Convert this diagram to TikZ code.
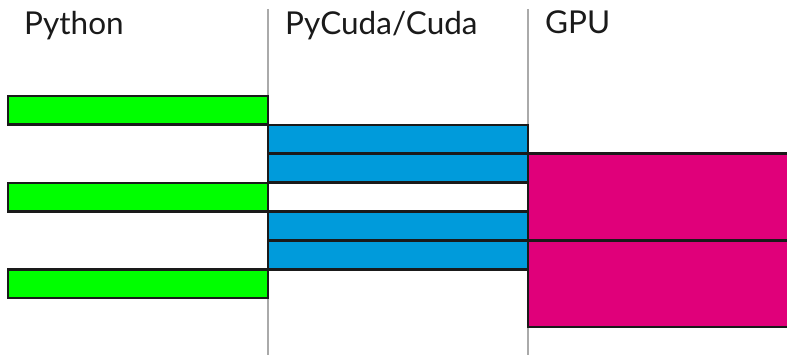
\documentclass[tikz,border=0pt]{standalone}
\usepackage{fontspec}
\setmainfont{Lato}
\definecolor{pygreen}{RGB}{0,255,0}
\definecolor{cudablue}{RGB}{0,155,219}
\definecolor{gpumagenta}{RGB}{224,0,122}
\definecolor{edgeblack}{RGB}{26,26,26}
\definecolor{divider}{RGB}{170,170,170}
\begin{document}
\begin{tikzpicture}[x=1pt,y=-1pt,
  bar/.style={draw=edgeblack,line width=2.6pt,inner sep=0pt,outer sep=0pt,anchor=north west},
  pybar/.style={bar,fill=pygreen,minimum width=260pt,minimum height=28.5pt},
  cudabar/.style={bar,fill=cudablue,minimum width=260pt,minimum height=28.8pt},
  gpubar/.style={bar,fill=gpumagenta,minimum width=270pt,minimum height=86.5pt},
  lane/.style={draw=divider,line width=2pt},
  title/.style={anchor=base west,inner sep=0pt,font=\fontsize{31.5}{34}\selectfont,text=edgeblack}]
\useasboundingbox (0,0) rectangle (787,355);
\clip (0,0) rectangle (787,355);
% lane dividers
\coordinate (d1top) at (268,9);
\coordinate (d1bot) at (268,355);
\coordinate (d2top) at (528,9);
\coordinate (d2bot) at (528,355);
\draw[lane] (d1top) -- (d1bot);
\draw[lane] (d2top) -- (d2bot);
% lane titles
\node[title] (tpy) at (24,35) {Python};
\node[title] (tcuda) at (285,35) {PyCuda/Cuda};
\node[title] (tgpu) at (545,34) {GPU};
% Python calls
\node[pybar] (py1) at (8,96) {};
\node[pybar] (py2) at (8,183) {};
\node[pybar] (py3) at (8,269.5) {};
% PyCuda/Cuda work
\node[cudabar] (cu1) at (268,125) {};
\node[cudabar] (cu2) at (268,153.8) {};
\node[cudabar] (cu3) at (268,211.7) {};
\node[cudabar] (cu4) at (268,240.5) {};
% GPU kernels
\node[gpubar] (gp1) at (528,153.8) {};
\node[gpubar] (gp2) at (528,240.3) {};
\end{tikzpicture}
\end{document}
